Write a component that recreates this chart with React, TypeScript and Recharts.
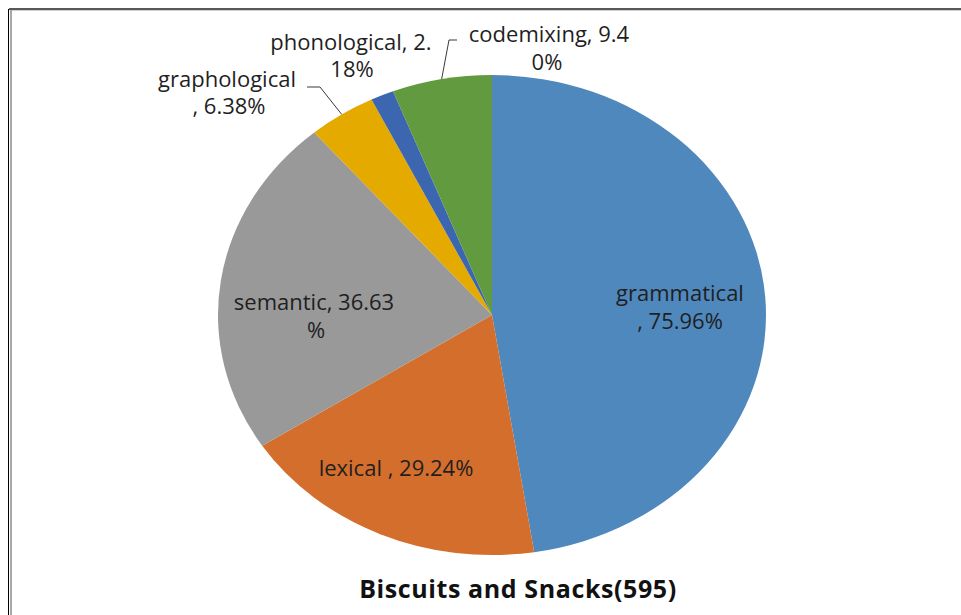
import { Cell, Pie, PieChart } from 'recharts';

const categories = ['grammatical', 'lexical', 'semantic', 'graphological', 'phonological', 'codemixing'];
const shares = [75.96, 29.24, 36.63, 6.38, 2.18, 9.4];
const colors = ['#4f88bd', '#d46e2c', '#999999', '#e4aa00', '#3c66af', '#629a40'];
const title = 'Biscuits and Snacks(595)';

const data = categories.map((name, i) => ({ name, value: shares[i] }));

// the source picture is stretched sideways, so the pie is an ellipse
const X_STRETCH = 274 / 240;
const RAD = Math.PI / 180;
const FONT = '"Open Sans", sans-serif';

// Excel-style label placement, offsets from the pie centre
const labelLayout = [
  { sep: ' , ', breakAt: 11, lines: [[188, -14], [188, 14]] },
  { sep: ' , ', breakAt: 0, lines: [[-96, 161]] },
  { sep: ', ', breakAt: 15, lines: [[-178, -5], [-176, 23]] },
  { sep: ' , ', breakAt: 13, lines: [[-265, -228], [-263, -201]], leader: [[-172, -228], [-185, -228]] },
  { sep: ', ', breakAt: 16, lines: [[-141, -265], [-140, -238]] },
  { sep: ', ', breakAt: 15, lines: [[57, -273], [55, -245]], leader: [[-43, -275], [-35, -275]] },
];

function EllipseSector(props: any) {
  const { cx, cy, outerRadius, startAngle, endAngle, fill } = props;
  const rx = outerRadius * X_STRETCH;
  const ry = outerRadius;
  const pt = (a: number) => [cx + rx * Math.cos(-a * RAD), cy + ry * Math.sin(-a * RAD)];
  const [x1, y1] = pt(startAngle);
  const [x2, y2] = pt(endAngle);
  const large = Math.abs(endAngle - startAngle) > 180 ? 1 : 0;
  const sweep = startAngle > endAngle ? 1 : 0;
  return <path d={`M${cx},${cy} L${x1},${y1} A${rx},${ry} 0 ${large} ${sweep} ${x2},${y2} Z`} fill={fill} stroke="none" />;
}

function renderLabel(props: any) {
  const { cx, cy, midAngle, outerRadius, index, name, value } = props;
  const lay = labelLayout[index];
  const full = `${name}${lay.sep}${Number(value).toFixed(2)}%`;
  const parts = lay.breakAt ? [full.slice(0, lay.breakAt), full.slice(lay.breakAt).trim()] : [full];
  let leader = null;
  if (lay.leader) {
    const ax = cx + outerRadius * X_STRETCH * Math.cos(-midAngle * RAD);
    const ay = cy + outerRadius * Math.sin(-midAngle * RAD);
    const pts = [[ax, ay], ...lay.leader.map(([dx, dy]) => [cx + dx, cy + dy])];
    leader = <polyline points={pts.map((p) => p.join(',')).join(' ')} fill="none" stroke="#3a3a3a" strokeWidth={1} />;
  }
  return (
    <g key={`lbl-${index}`}>
      {leader}
      <text textAnchor="middle" fill="#1f1f1f" fontFamily={FONT} fontSize={22}>
        {parts.map((t, i) => (
          <tspan key={i} x={cx + lay.lines[i][0]} y={cy + lay.lines[i][1]}>
            {t}
          </tspan>
        ))}
      </text>
    </g>
  );
}

export default function App() {
  return (
    <div style={{ position: 'absolute', left: 0, top: 0, width: 961, height: 615, background: '#fff', overflow: 'hidden' }}>
      <div style={{ position: 'absolute', left: 9, top: 8, width: 952, height: 2, background: '#585858' }} />
      <div style={{ position: 'absolute', left: 12, top: 10, width: 949, height: 1, background: '#cfcfcf' }} />
      <div style={{ position: 'absolute', left: 8, top: 9, width: 1, height: 606, background: '#000' }} />
      <div style={{ position: 'absolute', left: 10, top: 10, width: 2, height: 605, background: '#a8a8a8' }} />
      <div style={{ position: 'absolute', left: 0, top: 0 }}>
        <PieChart width={961} height={615} margin={{ top: 0, right: 0, bottom: 0, left: 0 }}>
          <Pie
            data={data}
            dataKey="value"
            nameKey="name"
            cx={492}
            cy={315}
            outerRadius={240}
            startAngle={90}
            endAngle={-270}
            shape={EllipseSector}
            label={renderLabel}
            labelLine={false}
            isAnimationActive={false}
          >
            {data.map((d, i) => (
              <Cell key={d.name} fill={colors[i]} />
            ))}
          </Pie>
        </PieChart>
      </div>
      <svg width={961} height={615} style={{ position: 'absolute', left: 0, top: 0, pointerEvents: 'none' }}>
        <text x={518} y={598} textAnchor="middle" fontFamily={FONT} fontWeight="bold" fontSize={25} letterSpacing={0.6} fill="#111">
          {title}
        </text>
      </svg>
    </div>
  );
}
